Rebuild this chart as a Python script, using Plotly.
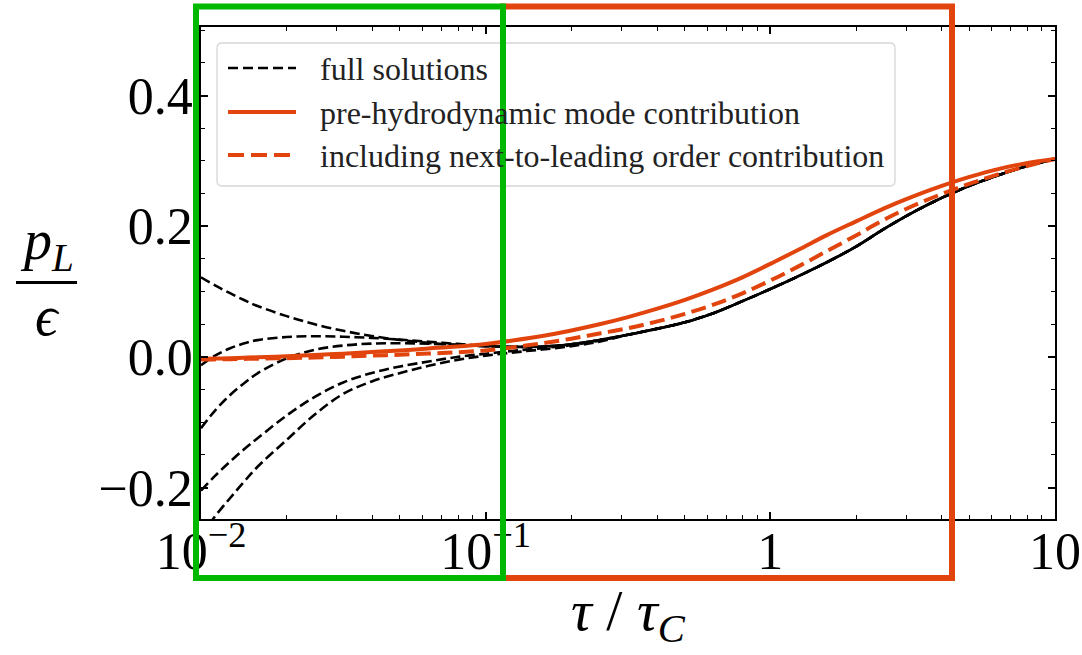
import plotly.graph_objects as go

# ---------------- data ----------------
tau = [0.01, 0.0112, 0.0126, 0.0141, 0.0158, 0.02, 0.0251, 0.0316, 0.0398, 0.0501,
       0.0631, 0.0794, 0.1, 0.126, 0.158, 0.2, 0.251, 0.316, 0.398, 0.501, 0.631,
       0.794, 1.0, 1.26, 1.58, 2.0, 2.51, 3.16, 3.98, 5.01, 6.31, 7.94, 10.0]

# converged part of all full solutions (tau >= 0.316)
late_full = [0.034, 0.043, 0.053, 0.067, 0.085, 0.104, 0.124, 0.145, 0.169, 0.196,
             0.221, 0.243, 0.262, 0.278, 0.292, 0.303]

full_a = [0.122, 0.1095, 0.098, 0.0875, 0.078, 0.0625, 0.050, 0.040, 0.032, 0.026,
          0.0215, 0.0185, 0.0165, 0.0155, 0.016, 0.0195, 0.026] + late_full
full_b = [-0.0127, 0.002, 0.013, 0.0205, 0.0258, 0.0305, 0.0318, 0.031, 0.0292, 0.0265,
          0.0232, 0.020, 0.0168, 0.0155, 0.016, 0.0195, 0.026] + late_full
full_c = [-0.109, -0.082, -0.059, -0.041, -0.025, -0.002, 0.011, 0.0175, 0.0205, 0.021,
          0.0202, 0.0185, 0.0165, 0.0155, 0.016, 0.0195, 0.026] + late_full
full_d = [-0.2046, -0.182, -0.161, -0.142, -0.1245, -0.0895, -0.061, -0.039, -0.0245, -0.0145,
          -0.007, 0.0, 0.005, 0.0095, 0.0135, 0.018, 0.025] + late_full
full_e = [-0.275, -0.244, -0.217, -0.192, -0.168, -0.127, -0.088, -0.0565, -0.0375, -0.0245,
          -0.0135, -0.0045, 0.002, 0.007, 0.0115, 0.0165, 0.0235] + late_full

pre_hydro = [-0.003, -0.0025, -0.002, -0.0012, -0.0005, 0.001, 0.003, 0.005, 0.0075, 0.010,
             0.013, 0.016, 0.020, 0.0255, 0.032, 0.0405, 0.050, 0.061, 0.0735, 0.0875,
             0.1035, 0.1215, 0.1425, 0.1645, 0.1865, 0.2075, 0.2275, 0.2455, 0.2615, 0.2755,
             0.2875, 0.2965, 0.303]
next_order = [-0.004, -0.0037, -0.0034, -0.003, -0.0026, -0.0018, -0.0008, 0.0005, 0.002, 0.0035,
              0.0052, 0.0072, 0.010, 0.015, 0.021, 0.028, 0.036, 0.044, 0.054, 0.066,
              0.080, 0.097, 0.117, 0.139, 0.162, 0.186, 0.210, 0.231, 0.249, 0.265,
              0.2795, 0.292, 0.303]

legend_labels = ["full solutions", "pre-hydrodynamic mode contribution",
                 "including next-to-leading order contribution"]

x_tickvals = [0.01, 0.1, 1, 10]
x_ticktext = ["10<sup>\u22122</sup>", "10<sup>\u22121</sup>", "1", "10"]
x_minor = [m * d for d in (0.01, 0.1, 1) for m in range(2, 10)]
y_tickvals = [-0.2, 0.0, 0.2, 0.4]
y_ticktext = ["\u22120.2", "0.0", "0.2", "0.4"]

# ---------------- style ----------------
ORANGE = "#e2440e"
GREEN = "#00b800"
FONT = "Liberation Serif, serif"
W, H = 1082, 655
L, R, T, B = 201, 27, 27, 136
PW, PH = W - L - R, H - T - B


def px(x):
    return (x - L) / PW


def py(y):
    return (H - B - y) / PH


fig = go.Figure()
for ys in (full_a, full_b, full_c, full_d, full_e):
    fig.add_trace(go.Scatter(x=tau, y=ys, mode="lines", line_shape="spline",
                             line=dict(color="black", width=2.6, dash="10px,4.5px"),
                             showlegend=False, hoverinfo="skip"))
fig.add_trace(go.Scatter(x=tau, y=next_order, mode="lines", line_shape="spline",
                         line=dict(color=ORANGE, width=4, dash="15px,6.5px"),
                         showlegend=False))
fig.add_trace(go.Scatter(x=tau, y=pre_hydro, mode="lines", line_shape="spline",
                         line=dict(color=ORANGE, width=4), showlegend=False))

shapes = []
annotations = []

# legend frame (rounded)
lx0, lx1, ly0, ly1, r = 217, 895, 43, 186, 5
path = (f"M{px(lx0 + r)},{py(ly0)} L{px(lx1 - r)},{py(ly0)} "
        f"Q{px(lx1)},{py(ly0)} {px(lx1)},{py(ly0 + r)} "
        f"L{px(lx1)},{py(ly1 - r)} Q{px(lx1)},{py(ly1)} {px(lx1 - r)},{py(ly1)} "
        f"L{px(lx0 + r)},{py(ly1)} Q{px(lx0)},{py(ly1)} {px(lx0)},{py(ly1 - r)} "
        f"L{px(lx0)},{py(ly0 + r)} Q{px(lx0)},{py(ly0)} {px(lx0 + r)},{py(ly0)} Z")
shapes.append(dict(type="path", path=path, xref="paper", yref="paper",
                   fillcolor="rgba(255,255,255,0.85)",
                   line=dict(color="#d6d6d6", width=1.3), layer="above"))
rows = [68, 112, 155]
styles = [dict(color="black", width=2.6, dash="10px,5px"),
          dict(color=ORANGE, width=4),
          dict(color=ORANGE, width=4, dash="16px,7px")]
for yy, st, lab in zip(rows, styles, legend_labels):
    shapes.append(dict(type="line", xref="paper", yref="paper",
                       x0=px(228), x1=px(296), y0=py(yy), y1=py(yy),
                       line=st, layer="above"))
    annotations.append(dict(text=lab, xref="paper", yref="paper", x=px(318), y=py(yy + 1),
                            xanchor="left", yanchor="middle", showarrow=False,
                            font=dict(family=FONT, size=32, color="#222")))

# region boxes
shapes.append(dict(type="rect", xref="paper", yref="paper",
                   x0=px(503), x1=px(952), y0=py(578), y1=py(6.5),
                   line=dict(color=ORANGE, width=6), layer="above"))
shapes.append(dict(type="rect", xref="paper", yref="paper",
                   x0=px(196), x1=px(503), y0=py(578), y1=py(6.5),
                   line=dict(color=GREEN, width=6), layer="above"))

# y title as a fraction
shapes.append(dict(type="line", xref="paper", yref="paper",
                   x0=px(16), x1=px(77), y0=py(282.5), y1=py(282.5),
                   line=dict(color="black", width=3)))
annotations.append(dict(text="<i>p</i><sub><i>L</i></sub>", xref="paper", yref="paper",
                        x=px(47), y=py(281), xanchor="center", yanchor="bottom",
                        showarrow=False, font=dict(family=FONT, size=56, color="black")))
annotations.append(dict(text="<i>\u03f5</i>", xref="paper", yref="paper",
                        x=px(47), y=py(283), xanchor="center", yanchor="top",
                        showarrow=False, font=dict(family=FONT, size=56, color="black")))
# x title
annotations.append(dict(text="<i>\u03c4</i> / <i>\u03c4</i><sub><i>C</i></sub>",
                        xref="paper", yref="paper", x=px(628), y=py(614),
                        xanchor="center", yanchor="middle", showarrow=False,
                        font=dict(family=FONT, size=58, color="black")))

fig.update_layout(
    width=W, height=H, margin=dict(l=L, r=R, t=T, b=B),
    paper_bgcolor="white", plot_bgcolor="white", showlegend=False,
    shapes=shapes, annotations=annotations,
    font=dict(family=FONT, color="black"),
    xaxis=dict(type="log", range=[-2, 1], tickmode="array", tickvals=x_tickvals,
               ticktext=x_ticktext, ticks="inside", ticklen=7, tickwidth=1.5,
               tickcolor="black", showline=True, linecolor="black", linewidth=1.8,
               mirror="allticks", showgrid=False, zeroline=False, automargin=False,
               ticklabelstandoff=-14,
               tickfont=dict(family=FONT, size=52, color="black"),
               minor=dict(tickmode="array", tickvals=x_minor, ticks="inside",
                          ticklen=4, tickwidth=1.2, tickcolor="black", showgrid=False)),
    yaxis=dict(range=[-0.248, 0.505], tickmode="array", tickvals=y_tickvals,
               ticktext=y_ticktext, ticks="inside", ticklen=7, tickwidth=1.5,
               tickcolor="black", showline=True, linecolor="black", linewidth=1.8,
               mirror="allticks", showgrid=False, zeroline=False, automargin=False,
               ticklabelstandoff=-4,
               tickfont=dict(family=FONT, size=52, color="black"),
               minor=dict(dtick=0.05, tick0=0, ticks="inside", ticklen=4,
                          tickwidth=1.2, tickcolor="black", showgrid=False)),
)

fig.write_html(
    "out.html",
    config={"displayModeBar": False},
    post_script="document.body.style.margin='0';document.body.style.padding='0';"
                "document.documentElement.style.overflow='hidden';",
)
